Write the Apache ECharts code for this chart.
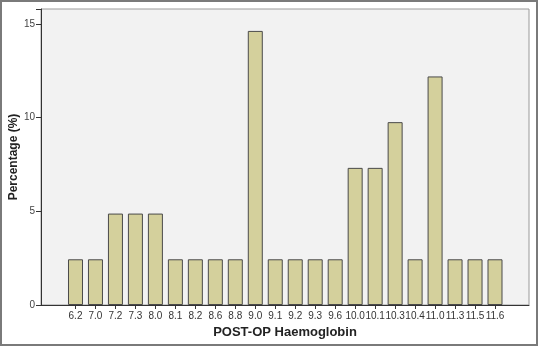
<!DOCTYPE html>
<html><head><meta charset="utf-8">
<script src="https://cdn.jsdelivr.net/npm/echarts@6/dist/echarts.min.js"></script>
<style>html,body{margin:0;padding:0;background:#fff;}#c{width:538px;height:347px;}</style>
</head><body><div id="c"></div>
<script>
var categories = ['6.2','7.0','7.2','7.3','8.0','8.1','8.2','8.6','8.8','9.0','9.1','9.2','9.3','9.6','10.0','10.1','10.3','10.4','11.0','11.3','11.5','11.6'];
var percentages = [2.44,2.44,4.88,4.88,4.88,2.44,2.44,2.44,2.44,14.63,2.44,2.44,2.44,2.44,7.32,7.32,9.76,2.44,12.20,2.44,2.44,2.44];
var yTicks = [0,5,10,15];

var chart = echarts.init(document.getElementById('c'), null, {renderer:'canvas'});
var font = 'Arial, "Liberation Sans", sans-serif';
chart.setOption({
  animation:false,
  backgroundColor:'#ffffff',
  graphic:[{type:'rect',shape:{x:1,y:1,width:536,height:344},style:{fill:'none',stroke:'#7a7a7a',lineWidth:2},z:100}],
  grid:[
    {left:41,right:9,top:9,bottom:42,show:true,backgroundColor:'#f2f2f2',borderColor:'#9a9a9a',borderWidth:1,outerBoundsMode:'none',containLabel:false},
    {left:65.5,right:33,top:9,bottom:42,outerBoundsMode:'none',containLabel:false}
  ],
  xAxis:[
    {gridIndex:0,type:'value',min:0,max:1,axisLine:{show:true,onZero:false,lineStyle:{color:'#333',width:1}},axisTick:{show:false},axisLabel:{show:false},splitLine:{show:false},
     name:'POST-OP Haemoglobin',nameLocation:'middle',nameGap:21,nameMoveOverlap:false,nameTextStyle:{fontFamily:font,fontWeight:'bold',fontSize:13,color:'#222'}},
    {gridIndex:1,type:'category',data:categories,axisLine:{show:false},axisTick:{show:true,alignWithLabel:true,length:4,lineStyle:{color:'#333'}},
     axisLabel:{fontFamily:font,fontSize:10,color:'#333',margin:6,interval:0}}
  ],
  yAxis:[
    {gridIndex:0,type:'value',min:0,max:15.8,interval:5,
     axisLine:{show:true,lineStyle:{color:'#333',width:1}},axisTick:{show:true,length:5,lineStyle:{color:'#333'}},
     axisLabel:{fontFamily:font,fontSize:10,color:'#444',margin:6,customValues:yTicks},splitLine:{show:false},
     name:'Percentage (%)',nameLocation:'middle',nameGap:21,nameMoveOverlap:false,nameRotate:90,nameTextStyle:{fontFamily:font,fontWeight:'bold',fontSize:12,color:'#222'}},
    {gridIndex:1,type:'value',min:0,max:15.8,show:false}
  ],
  series:[{type:'bar',xAxisIndex:1,yAxisIndex:1,data:percentages,barWidth:15,
    itemStyle:{color:'#d4d09c',borderColor:'#4a4a4a',borderWidth:1}}]
});
</script></body></html>
